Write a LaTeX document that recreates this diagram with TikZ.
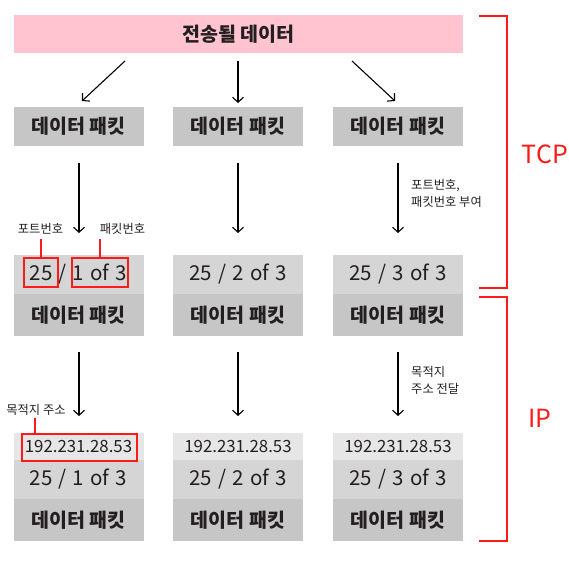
\documentclass[tikz,border=0pt]{standalone}
\usepackage{fontspec}
\setmainfont{Noto Sans CJK KR}
\usetikzlibrary{arrows.meta}
\definecolor{pinkbg}{HTML}{FFC4D0}
\definecolor{gA}{HTML}{C6C6C6}
\definecolor{gB}{HTML}{D5D5D5}
\definecolor{gC}{HTML}{E6E6E6}
\definecolor{txt}{HTML}{231F20}
\definecolor{redc}{HTML}{FF1A1A}
\newcommand\widesp{\spaceskip=0.3em\relax}
\tikzset{
  box/.style={rectangle, inner sep=0pt, minimum width=130pt, text=txt},
  topbar/.style={rectangle, inner sep=0pt, minimum width=449pt, minimum height=38pt, fill=pinkbg, text=txt, font=\bfseries\fontsize{19.5}{22}\selectfont},
  pkt/.style={box, fill=gA, font=\bfseries\fontsize{19.5}{22}\selectfont},
  hdr/.style={box, fill=gB, minimum height=39pt, font=\fontsize{20.5}{24}\selectfont, execute at begin node=\widesp},
  ipst/.style={box, fill=gC, minimum height=27pt, font=\fontsize{16.8}{19}\selectfont},
  arr/.style={-{Straight Barb[length=5pt,width=11pt]}, line width=1.1pt, draw=black},
  lbl/.style={inner sep=0pt, text=txt, font=\fontsize{12.3}{17}\selectfont},
  redbox/.style={draw=redc, line width=1.5pt, inner sep=0pt, rectangle},
  redln/.style={draw=redc, line width=1.5pt},
  bracket/.style={draw=redc, line width=2pt},
  proto/.style={inner sep=0pt, text=redc, font=\fontsize{25}{30}\selectfont}
}
\begin{document}
\begin{tikzpicture}[x=1pt,y=-1pt]
\useasboundingbox (0,0) rectangle (569,565);
% source
\node[topbar] (src) at (238.5,34) {전송될 데이터};
% row 1
\node[pkt, minimum height=39pt] (p1) at (78.5,126.5) {데이터 패킷};
\node[pkt, minimum height=39pt] (p2) at (238,126.5) {데이터 패킷};
\node[pkt, minimum height=39pt] (p3) at (398,126.5) {데이터 패킷};
% row 2
\node[hdr] (h1) at (78.5,274.5) {25 / 1 of 3};
\node[hdr] (h2) at (238,274.5) {25 / 2 of 3};
\node[hdr] (h3) at (398,274.5) {25 / 3 of 3};
\node[pkt, minimum height=42pt] (b1) at (78.5,315) {데이터 패킷};
\node[pkt, minimum height=42pt] (b2) at (238,315) {데이터 패킷};
\node[pkt, minimum height=42pt] (b3) at (398,315) {데이터 패킷};
% row 3
\node[ipst] (i1) at (78.5,446.5) {192.231.28.53};
\node[ipst] (i2) at (238,446.5) {192.231.28.53};
\node[ipst] (i3) at (398,446.5) {192.231.28.53};
\node[hdr] (m1) at (78.5,479.5) {25 / 1 of 3};
\node[hdr] (m2) at (238,479.5) {25 / 2 of 3};
\node[hdr] (m3) at (398,479.5) {25 / 3 of 3};
\node[pkt, minimum height=42pt] (c1) at (78.5,520) {데이터 패킷};
\node[pkt, minimum height=42pt] (c2) at (238,520) {데이터 패킷};
\node[pkt, minimum height=42pt] (c3) at (398,520) {데이터 패킷};
% arrows row 1
\coordinate (s1) at (125,61); \coordinate (e1) at (82,101);
\coordinate (s2) at (238,61); \coordinate (e2) at (238,103);
\coordinate (s3) at (352,61); \coordinate (e3) at (395,101);
\draw[arr] (s1) -- (e1);
\draw[arr] (s2) -- (e2);
\draw[arr] (s3) -- (e3);
% arrows row 2
\coordinate (s4) at (79,163); \coordinate (e4) at (79,233);
\coordinate (s5) at (238,163); \coordinate (e5) at (238,233);
\coordinate (s6) at (398,163); \coordinate (e6) at (398,233);
\draw[arr] (s4) -- (e4);
\draw[arr] (s5) -- (e5);
\draw[arr] (s6) -- (e6);
% arrows row 3
\coordinate (s7) at (79,352); \coordinate (e7) at (79,416);
\coordinate (s8) at (238,352); \coordinate (e8) at (238,416);
\coordinate (s9) at (398,352); \coordinate (e9) at (398,416);
\draw[arr] (s7) -- (e7);
\draw[arr] (s8) -- (e8);
\draw[arr] (s9) -- (e9);
% side labels
\node[lbl, align=left, anchor=west] (n1) at (411,193.5) {포트번호,\\패킷번호 부여};
\node[lbl, align=left, anchor=west] (n2) at (411,380.5) {목적지\\주소 전달};
% red marks row 2
\node[redbox, minimum width=34pt, minimum height=29pt] (r25) at (41,272.5) {};
\node[redbox, minimum width=56pt, minimum height=29pt] (rpk) at (100,272.5) {};
\node[lbl] (l1) at (40.5,229) {포트번호};
\node[lbl] (l2) at (122.5,229) {패킷번호};
\draw[redln] (r25.north) -- (r25.north |- 0,239);
\draw[redln] (rpk.north) -- (rpk.north |- 0,239);
% red marks row 3
\node[redbox, minimum width=115pt, minimum height=27pt] (rip) at (79.5,447.5) {};
\node[lbl] (l3) at (36,410) {목적지 주소};
\coordinate (t3) at (35,418);
\draw[redln] (t3) -- (t3 |- rip.north);
% brackets
\draw[bracket] (479,16) -- (507,16) -- (507,288) -- (479,288);
\draw[bracket] (479,297) -- (507,297) -- (507,541) -- (479,541);
\node[proto] (tcp) at (545,154) {TCP};
\node[proto] (ip) at (540,418) {IP};
\end{tikzpicture}
\end{document}
